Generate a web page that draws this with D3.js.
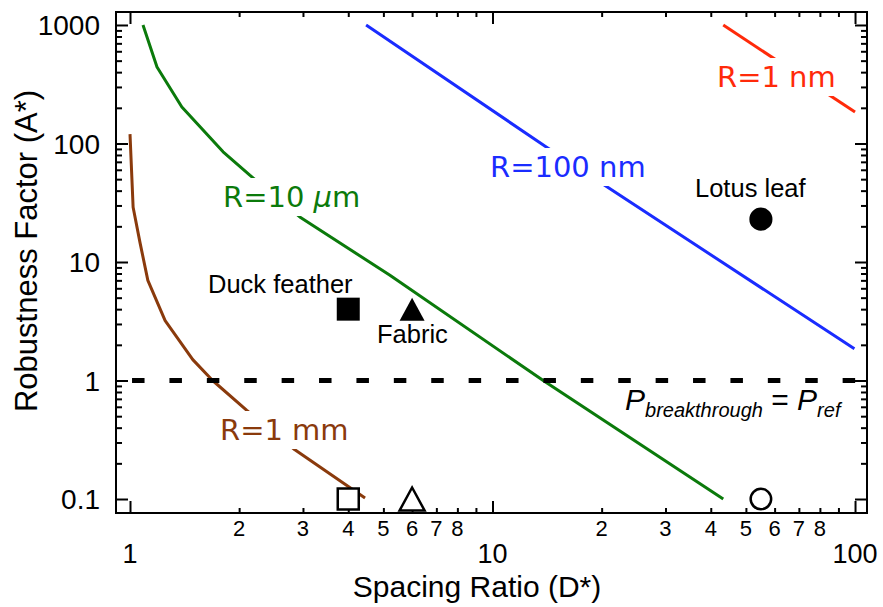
<!DOCTYPE html>
<html>
<head>
<meta charset="utf-8">
<script src="https://cdn.jsdelivr.net/npm/d3@7"></script>
<style>
body { margin: 0; background: #fff; }
text { font-family: "Liberation Sans", Arial, Helvetica, sans-serif; fill: #000; }
.clabel { font-family: "DejaVu Sans", "Lucida Grande", sans-serif; font-size: 29px; }
</style>
</head>
<body>
<svg id="chart" width="883" height="607"></svg>
<script>
/****** data (D*, A*) ******/
const mmX = [1.0, 1.02, 1.066, 1.12, 1.25, 1.49, 1.69, 2.10, 2.85, 4.45];
const mmY = [120, 29, 14.5, 7.0, 3.2, 1.5, 1.0, 0.56, 0.26, 0.102];
const umX = [1.086, 1.187, 1.39, 1.806, 2.14, 2.94, 5.2, 13.8, 43.3];
const umY = [1000, 442, 203, 85, 54, 24, 7.76, 1.0, 0.1];
const nm100X = [4.48, 14.1, 99.6];
const nm100Y = [1000, 93, 1.85];
const nm1X = [43.3, 100];
const nm1Y = [1000, 184];

// real surfaces: filled markers, and the same D* on the bottom (open markers)
const surfNames = ["Duck feather", "Fabric", "Lotus leaf"];
const surfShapes = ["square", "triangle", "circle"];
const surfX = [4, 6, 55];
const surfY = [4, 4, 23];
const openY = [0.1, 0.1, 0.1];

// P_breakthrough = P_ref line
const refX = [1.013, 101];
const refY = [1, 1];

// ticks
const xMajor = [1, 10, 100];
const xMinor = [2, 3, 4, 5, 6, 7, 8, 9, 20, 30, 40, 50, 60, 70, 80, 90];
const xMinorLabeled = [2, 3, 4, 5, 6, 7, 8, 20, 30, 40, 50, 60, 70, 80];
const yMajor = [0.1, 1, 10, 100, 1000];
const yMinor = [0.2, 0.3, 0.4, 0.5, 0.6, 0.7, 0.8, 0.9,
                2, 3, 4, 5, 6, 7, 8, 9,
                20, 30, 40, 50, 60, 70, 80, 90,
                200, 300, 400, 500, 600, 700, 800, 900];

/****** layout ******/
var svgWidth = 883, svgHeight = 607;
var margin = {top: 12, right: 16, bottom: 94, left: 116};
var width = svgWidth - margin.left - margin.right;
var height = svgHeight - margin.top - margin.bottom;

var svg = d3.select('#chart');
var g = svg.append("g")
    .attr("transform", "translate(" + margin.left + "," + margin.top + ")");

var x = d3.scaleLog().domain([0.9149, 107.9]).range([0, width]);
var y = d3.scaleLog().domain([0.0762, 1287]).range([height, 0]);

/****** axes (mirrored, ticks inward) ******/
function tickAxis(axisFn, scale, vals, size, tf) {
    var a = g.append("g")
        .attr("transform", tf || null)
        .call(axisFn(scale).tickValues(vals).tickSize(size).tickFormat(""));
    a.select(".domain").remove();
    a.selectAll(".tick line").attr("stroke", "#000").attr("stroke-width", 2);
    return a;
}
tickAxis(d3.axisBottom, x, xMajor, -12, "translate(0," + height + ")");
tickAxis(d3.axisBottom, x, xMinor, -5, "translate(0," + height + ")");
tickAxis(d3.axisTop, x, xMajor, -12);
tickAxis(d3.axisTop, x, xMinor, -5);
tickAxis(d3.axisLeft, y, yMajor, -12);
tickAxis(d3.axisLeft, y, yMinor, -6);
tickAxis(d3.axisRight, y, yMajor, -12, "translate(" + width + ",0)");
tickAxis(d3.axisRight, y, yMinor, -6, "translate(" + width + ",0)");

g.append("rect")
    .attr("width", width).attr("height", height)
    .attr("fill", "none").attr("stroke", "#000").attr("stroke-width", 2);

// tick labels
g.selectAll(".xmaj").data(xMajor).enter().append("text")
    .attr("x", d => x(d)).attr("y", height + 50)
    .attr("text-anchor", "middle").style("font-size", "27px")
    .text(d => d);
g.selectAll(".xmin").data(xMinorLabeled).enter().append("text")
    .attr("x", d => x(d)).attr("y", height + 23)
    .attr("text-anchor", "middle").style("font-size", "22px")
    .text(d => String(d)[0]);
g.selectAll(".ymaj").data(yMajor).enter().append("text")
    .attr("x", -16).attr("y", d => y(d)).attr("dy", "0.36em")
    .attr("text-anchor", "end").style("font-size", "28px")
    .text(d => d);

// axis titles
svg.append("text")
    .attr("x", 477).attr("y", 597)
    .attr("text-anchor", "middle").style("font-size", "30px")
    .text("Spacing Ratio (D*)");
svg.append("text")
    .attr("transform", "translate(37,251) rotate(-90)")
    .attr("text-anchor", "middle").style("font-size", "31px")
    .text("Robustness Factor (A*)");

/****** curves ******/
var line = d3.line()
    .x(d => x(d[0]))
    .y(d => y(d[1]));

var curves = [
    {xs: mmX, ys: mmY, color: "#8a3a0c"},
    {xs: umX, ys: umY, color: "#0b7a0b"},
    {xs: nm100X, ys: nm100Y, color: "#1a2cff"},
    {xs: nm1X, ys: nm1Y, color: "#ff2a0a"}
];
curves.forEach(function (c) {
    g.append("path")
        .datum(d3.zip(c.xs, c.ys))
        .attr("fill", "none")
        .attr("stroke", c.color)
        .attr("stroke-width", 3)
        .attr("stroke-linejoin", "round")
        .attr("d", line);
});

// reference line
g.append("path")
    .datum(d3.zip(refX, refY))
    .attr("fill", "none")
    .attr("stroke", "#000")
    .attr("stroke-width", 5)
    .attr("stroke-dasharray", "12.5,24.9")
    .attr("d", line);

/****** curve labels (white box breaks the line) ******/
function curveLabel(px, py, color, parts) {
    var t = svg.append("text").attr("class", "clabel")
        .attr("x", px).attr("y", py).style("fill", color);
    parts.forEach(function (p) {
        t.append("tspan").style("font-style", p[1] ? "italic" : "normal").text(p[0]);
    });
    var b = t.node().getBBox();
    svg.insert("rect", function () { return t.node(); })
        .attr("x", b.x - 3).attr("y", b.y - 2)
        .attr("width", b.width + 6).attr("height", b.height + 4)
        .attr("fill", "#fff");
}
curveLabel(220, 440, "#8a3a0c", [["R=1 mm"]]);
curveLabel(223, 207, "#0b7a0b", [["R=10 "], ["\u03bc", true], ["m"]]);
curveLabel(490, 177, "#1a2cff", [["R=100 nm"]]);
curveLabel(717, 87, "#ff2a0a", [["R=1 nm"]]);

/****** surface markers ******/
function shapePath(kind, filled) {
    if (kind === "triangle") {
        var w = 25, h = 23;
        return "M0," + (-h / 2) + "L" + (w / 2) + "," + (h / 2) + "L" + (-w / 2) + "," + (h / 2) + "Z";
    }
    if (kind === "square") return d3.symbol(d3.symbolSquare, filled ? 529 : 441)();
    return d3.symbol(d3.symbolCircle, filled ? 420 : 330)();
}
g.selectAll(".filled").data(d3.range(surfX.length)).enter().append("path")
    .attr("transform", i => "translate(" + x(surfX[i]) + "," + y(surfY[i]) + ")")
    .attr("d", i => shapePath(surfShapes[i], true))
    .attr("fill", "#000");
g.selectAll(".open").data(d3.range(surfX.length)).enter().append("path")
    .attr("transform", i => "translate(" + x(surfX[i]) + "," + y(openY[i]) + ")")
    .attr("d", i => shapePath(surfShapes[i], false))
    .attr("fill", "#fff").attr("stroke", "#000").attr("stroke-width", 2.5);

// surface names
var namePos = [[208, 293], [377, 343], [695, 197]];
surfNames.forEach(function (n, i) {
    svg.append("text")
        .attr("x", namePos[i][0]).attr("y", namePos[i][1])
        .style("font-size", "25.5px")
        .text(n);
});

// P_breakthrough = P_ref
var pt = svg.append("text").attr("x", 625).attr("y", 410)
    .style("font-size", "30px").style("font-style", "italic");
pt.append("tspan").text("P");
pt.append("tspan").attr("dy", 7).style("font-size", "20px").text("breakthrough");
pt.append("tspan").attr("dy", -7).style("font-style", "normal").text(" = ");
pt.append("tspan").text("P");
pt.append("tspan").attr("dy", 7).style("font-size", "20px").text("ref");
</script>
</body>
</html>
